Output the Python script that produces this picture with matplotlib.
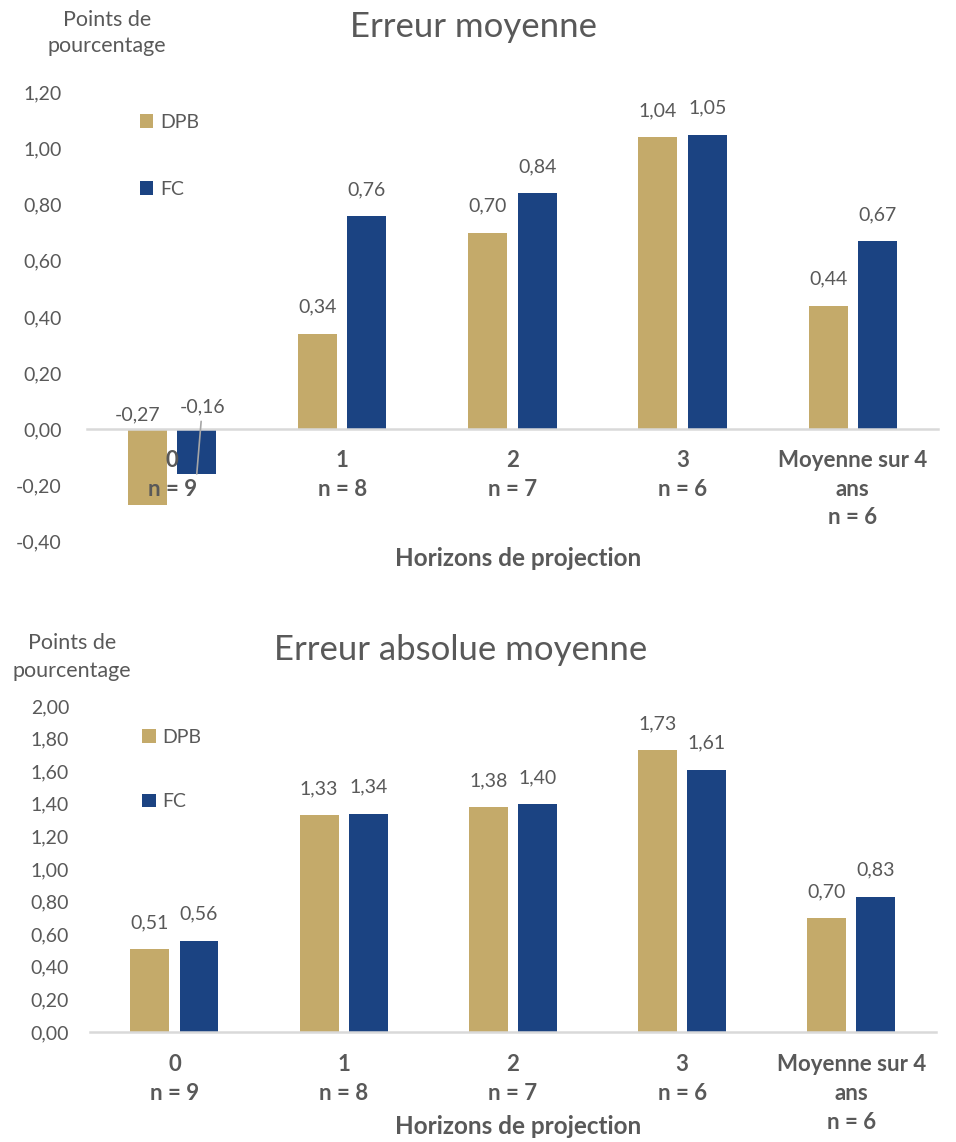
import matplotlib
matplotlib.use('Agg')
import matplotlib.pyplot as plt
from matplotlib.ticker import FuncFormatter
import numpy as np

plt.rcParams['font.family'] = ['Lato', 'DejaVu Sans']

categories = ['0\nn = 9', '1\nn = 8', '2\nn = 7', '3\nn = 6', 'Moyenne sur 4\nans\nn = 6']
series_names = ['DPB', 'FC']

# erreur moyenne
em_dpb = [-0.27, 0.34, 0.70, 1.04, 0.44]
em_fc = [-0.16, 0.76, 0.84, 1.05, 0.67]

# erreur absolue moyenne
eam_dpb = [0.51, 1.33, 1.38, 1.73, 0.70]
eam_fc = [0.56, 1.34, 1.40, 1.61, 0.83]

GOLD = '#C4AA6A'
NAVY = '#1B4382'
GREY = '#595959'
LINE = '#D9D9D9'

fmt = lambda v: f'{v:.2f}'.replace('.', ',')

fig = plt.figure(figsize=(9.56, 11.42), dpi=100)


def draw(ax, dpb, fc, ylim, step, title, title_xy, ylab_xy, ylab_sp, xlab_y,
         leg_y, legsp, ypad, xpad):
    x = np.arange(len(categories))
    w = 0.23
    off = 0.145
    b1 = ax.bar(x - off, dpb, w, color=GOLD, label=series_names[0])
    b2 = ax.bar(x + off, fc, w, color=NAVY, label=series_names[1])
    ax.set_xlim(-0.5, len(categories) - 0.5)
    ax.set_ylim(*ylim)
    ax.set_yticks(np.arange(ylim[0], ylim[1] + step / 2, step))
    ax.yaxis.set_major_formatter(FuncFormatter(lambda v, p: fmt(v)))
    for s in ['top', 'right', 'left']:
        ax.spines[s].set_visible(False)
    ax.spines['bottom'].set_position(('data', 0))
    ax.spines['bottom'].set_color(LINE)
    ax.spines['bottom'].set_linewidth(1.8)
    ax.set_xticks(x)
    ax.set_xticklabels(categories, fontweight='bold', fontsize=16, color=GREY,
                       linespacing=1.45)
    ax.tick_params(axis='x', length=0, pad=xpad)
    ax.tick_params(axis='y', length=0, pad=ypad, labelsize=14, labelcolor=GREY)

    for bars, vals in ((b1, dpb), (b2, fc)):
        for r, v in zip(bars, vals):
            cx = r.get_x() + r.get_width() / 2
            if v >= 0:
                ax.annotate(fmt(v), (cx, v), xytext=(0, 19), textcoords='offset points',
                            ha='center', va='center', fontsize=14, color=GREY)

    leg = ax.legend(loc='upper left', bbox_to_anchor=(0.062, leg_y), frameon=False,
                    fontsize=14, handlelength=0.7, handleheight=0.7,
                    handletextpad=0.35, labelspacing=legsp, borderpad=0,
                    borderaxespad=0)
    for t in leg.get_texts():
        t.set_color(GREY)

    fig.text(title_xy[0], title_xy[1], title, ha='center', va='center',
             fontsize=25, color=GREY)
    fig.text(ylab_xy[0], ylab_xy[1], 'Points de\npourcentage', ha='center', va='center',
             fontsize=15.5, color=GREY, linespacing=ylab_sp)
    fig.text(0.542, xlab_y, 'Horizons de projection', ha='center', va='center',
             fontsize=17.5, fontweight='bold', color=GREY)
    return b1, b2


ax1 = fig.add_axes([0.091, 0.526, 0.890, 0.393])
b1, b2 = draw(ax1, em_dpb, em_fc, (-0.4, 1.2), 0.2, 'Erreur moyenne',
              (473 / 956, 1 - 27 / 1142), (107 / 956, 1 - 33 / 1142), 1.32,
              1 - 559 / 1142, 0.952, 2.55, 18, 15)

# labels des barres negatives, places au-dessus de l'axe
r = b1[0]
ax1.annotate(fmt(em_dpb[0]), (r.get_x() + r.get_width() / 2, 0), xytext=(-7, 10),
             textcoords='offset points', ha='center', va='center', fontsize=14, color=GREY)
r = b2[0]
ax1.annotate(fmt(em_fc[0]), (r.get_x() + r.get_width() / 2, em_fc[0]), xytext=(4, 48),
             textcoords='offset points', ha='center', va='center', fontsize=14, color=GREY,
             arrowprops=dict(arrowstyle='-', color='#A6A6A6', lw=1.2, shrinkA=2, shrinkB=0))

ax2 = fig.add_axes([0.094, 0.0963, 0.885, 0.2855])
draw(ax2, eam_dpb, eam_fc, (0.0, 2.0), 0.2, 'Erreur absolue moyenne',
     (461 / 956, 1 - 650 / 1142), (72 / 956, 1 - 657 / 1142), 1.55,
     1 - 1127 / 1142, 0.93, 2.45, 15, 16)

fig.savefig('out.png', dpi=100)
